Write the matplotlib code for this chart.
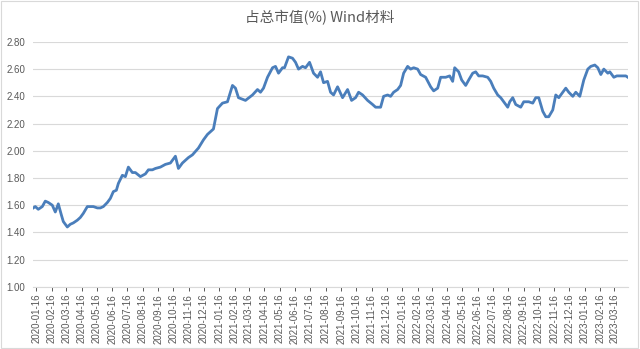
import numpy as np
import pandas as pd
import matplotlib
matplotlib.use('Agg')
import matplotlib.pyplot as plt
import matplotlib.dates as mdates
from matplotlib.patches import Rectangle

plt.rcParams['font.family'] = ['Liberation Sans', 'Noto Sans CJK SC', 'DejaVu Sans']

# values
dates = [
    '2020-01-10', '2020-01-14', '2020-01-20', '2020-01-28', '2020-02-03', '2020-02-09',
    '2020-02-17', '2020-02-23', '2020-02-29', '2020-03-06', '2020-03-10', '2020-03-18',
    '2020-03-24', '2020-03-30', '2020-04-07', '2020-04-13', '2020-04-19', '2020-04-27',
    '2020-05-03', '2020-05-09', '2020-05-17', '2020-05-23', '2020-05-29', '2020-06-06',
    '2020-06-12', '2020-06-18', '2020-06-24', '2020-06-28', '2020-07-06', '2020-07-12',
    '2020-07-18', '2020-07-26', '2020-08-01', '2020-08-11', '2020-08-21', '2020-08-27',
    '2020-09-04', '2020-09-10', '2020-09-20', '2020-09-30', '2020-10-10', '2020-10-20',
    '2020-10-26', '2020-11-03', '2020-11-15', '2020-11-23', '2020-12-05', '2020-12-15',
    '2020-12-23', '2021-01-04', '2021-01-12', '2021-01-22', '2021-02-01', '2021-02-11',
    '2021-02-17', '2021-02-23', '2021-03-09', '2021-03-23', '2021-04-02', '2021-04-08',
    '2021-04-14', '2021-04-22', '2021-05-02', '2021-05-08', '2021-05-14', '2021-05-22',
    '2021-05-26', '2021-06-03', '2021-06-11', '2021-06-17', '2021-06-23', '2021-07-01',
    '2021-07-07', '2021-07-15', '2021-07-23', '2021-07-31', '2021-08-06', '2021-08-12',
    '2021-08-20', '2021-08-26', '2021-09-01', '2021-09-09', '2021-09-19', '2021-09-29',
    '2021-10-07', '2021-10-15', '2021-10-21', '2021-10-29', '2021-11-08', '2021-11-18',
    '2021-11-24', '2021-12-04', '2021-12-10', '2021-12-18', '2021-12-24', '2021-12-30',
    '2022-01-07', '2022-01-13', '2022-01-19', '2022-01-27', '2022-02-02', '2022-02-08',
    '2022-02-16', '2022-02-22', '2022-03-04', '2022-03-14', '2022-03-20', '2022-03-28',
    '2022-04-03', '2022-04-13', '2022-04-21', '2022-04-27', '2022-05-01', '2022-05-09',
    '2022-05-15', '2022-05-23', '2022-05-29', '2022-06-06', '2022-06-12', '2022-06-18',
    '2022-06-26', '2022-07-06', '2022-07-12', '2022-07-18', '2022-07-26', '2022-08-01',
    '2022-08-07', '2022-08-15', '2022-08-19', '2022-08-25', '2022-08-31', '2022-09-10',
    '2022-09-16', '2022-09-26', '2022-10-04', '2022-10-10', '2022-10-16', '2022-10-24',
    '2022-10-30', '2022-11-05', '2022-11-13', '2022-11-19', '2022-11-25', '2022-12-03',
    '2022-12-09', '2022-12-15', '2022-12-23', '2022-12-29', '2023-01-06', '2023-01-14',
    '2023-01-22', '2023-01-28', '2023-02-05', '2023-02-11', '2023-02-17', '2023-02-23',
    '2023-03-03', '2023-03-07', '2023-03-15', '2023-03-21', '2023-03-29', '2023-04-08',
    '2023-04-12',
]
share = [
    1.58, 1.59, 1.57, 1.59, 1.63, 1.62,
    1.60, 1.55, 1.61, 1.53, 1.48, 1.44,
    1.46, 1.47, 1.49, 1.51, 1.54, 1.59,
    1.59, 1.59, 1.58, 1.58, 1.59, 1.62,
    1.65, 1.70, 1.71, 1.76, 1.82, 1.81,
    1.88, 1.84, 1.84, 1.81, 1.83, 1.86,
    1.86, 1.87, 1.88, 1.90, 1.91, 1.96,
    1.87, 1.91, 1.95, 1.97, 2.02, 2.08,
    2.12, 2.16, 2.31, 2.35, 2.36, 2.48,
    2.46, 2.39, 2.37, 2.41, 2.45, 2.43,
    2.46, 2.54, 2.61, 2.62, 2.57, 2.61,
    2.61, 2.69, 2.68, 2.65, 2.60, 2.62,
    2.61, 2.65, 2.57, 2.54, 2.58, 2.50,
    2.51, 2.43, 2.41, 2.47, 2.39, 2.45,
    2.37, 2.39, 2.43, 2.41, 2.37, 2.34,
    2.32, 2.32, 2.40, 2.41, 2.40, 2.43,
    2.45, 2.48, 2.57, 2.62, 2.60, 2.61,
    2.60, 2.56, 2.54, 2.47, 2.44, 2.46,
    2.54, 2.54, 2.55, 2.51, 2.61, 2.58,
    2.52, 2.48, 2.52, 2.57, 2.58, 2.55,
    2.55, 2.54, 2.51, 2.46, 2.41, 2.39,
    2.36, 2.32, 2.36, 2.39, 2.34, 2.32,
    2.36, 2.36, 2.35, 2.39, 2.39, 2.29,
    2.25, 2.25, 2.30, 2.41, 2.39, 2.43,
    2.46, 2.43, 2.40, 2.43, 2.40, 2.52,
    2.60, 2.62, 2.63, 2.61, 2.56, 2.60,
    2.57, 2.58, 2.54, 2.55, 2.55, 2.55,
    2.54,
]
tick_dates = pd.date_range('2020-01-01', '2023-03-01', freq='MS') + pd.Timedelta(days=15)
yticks = [1.00, 1.20, 1.40, 1.60, 1.80, 2.00, 2.20, 2.40, 2.60, 2.80]

GRID = '#d9d9d9'
TXT = '#595959'

x = pd.to_datetime(dates)

fig = plt.figure(figsize=(6.4, 3.49), dpi=100)
ax = fig.add_axes([0.052, 0.178, 0.929, 0.702])

ax.plot(x, share, color='#4a7ebb', lw=2.0, solid_joinstyle='round')

ax.set_ylim(1.0, 2.8)
ax.set_yticks(yticks)
ax.set_yticklabels([f'{v:.2f}' for v in yticks])
ax.set_xlim(x[0], x[-1])
ax.set_xticks(tick_dates)
ax.xaxis.set_major_formatter(mdates.DateFormatter('%Y-%m-%d'))
ax.tick_params(axis='x', rotation=90, labelsize=7, colors=TXT, length=3, width=0.7, pad=2)
for t in ax.get_xticklines():
    t.set_color(GRID)
ax.tick_params(axis='y', labelsize=7, colors=TXT, length=0, pad=6)

ax.grid(True, axis='y', color=GRID, lw=0.8)
ax.set_axisbelow(True)
for s in ['top', 'right', 'left']:
    ax.spines[s].set_visible(False)
ax.spines['bottom'].set_color(GRID)
ax.spines['bottom'].set_linewidth(0.8)

fig.text(0.5, 0.95, '占总市值(%) Wind材料', ha='center', va='center',
         fontsize=10.5, color=TXT, family=['Noto Sans CJK SC', 'DejaVu Sans'])

fig.patches.append(Rectangle((0.002, 0.003), 0.995, 0.994, transform=fig.transFigure,
                             fill=False, edgecolor=GRID, lw=0.8))

fig.savefig('out.png', dpi=100)
